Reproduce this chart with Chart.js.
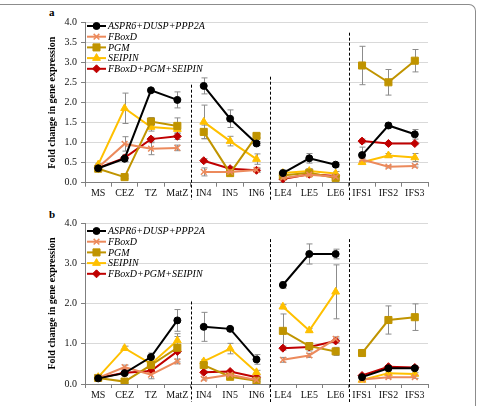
<!DOCTYPE html>
<html>
<head>
<meta charset="utf-8">
<script src="https://cdn.jsdelivr.net/npm/chart.js@4.4.1/dist/chart.umd.min.js"></script>
<style>
  body { margin: 0; background: #fff; }
  #wrap { position: relative; width: 477px; height: 406px; overflow: hidden; }
  #frame { position: absolute; left: -2px; top: 4px; width: 477px; height: 600px;
           border-top: 1px solid #8c8c8c; border-right: 1px solid #8c8c8c; border-radius: 0 7px 0 0; }
  canvas { position: absolute; left: 0; }
  .tag { position: absolute; font: bold 11px "Liberation Serif", serif; color: #000; }
</style>
</head>
<body>
<div id="wrap">
  <div id="frame"></div>
  <div class="tag" style="left:49px; top:6px;">a</div>
  <div class="tag" style="left:49px; top:208px;">b</div>
  <canvas id="chartA" width="477" height="200" style="top:0px"></canvas>
  <canvas id="chartB" width="477" height="206" style="top:200px"></canvas>
</div>
<script>
const categories = ['MS', 'CEZ', 'TZ', 'MatZ', 'IN4', 'IN5', 'IN6', 'LE4', 'LE5', 'LE6', 'IFS1', 'IFS2', 'IFS3'];
const seriesNames = ['ASPR6+DUSP+PPP2A', 'FBoxD', 'PGM', 'SEIPIN', 'FBoxD+PGM+SEIPIN'];

// panel a
const aspr6A  = [0.36, 0.60, 2.31, 2.07, 2.42, 1.60, 0.98, 0.24, 0.61, 0.45, 0.69, 1.43, 1.21];
const fboxdA  = [0.38, 0.97, 0.85, 0.87, 0.27, 0.27, 0.32, 0.12, 0.20, 0.15, 0.58, 0.40, 0.42];
const pgmA    = [0.35, 0.14, 1.53, 1.42, 1.27, 0.24, 1.17, 0.18, 0.25, 0.12, 2.93, 2.51, 3.05];
const seipinA = [0.45, 1.86, 1.39, 1.34, 1.52, 1.04, 0.59, 0.24, 0.29, 0.23, 0.51, 0.68, 0.63];
const comboA  = [0.37, 0.62, 1.09, 1.16, 0.55, 0.35, 0.31, 0.09, 0.21, 0.17, 1.04, 0.98, 0.98];

const aspr6ErrA  = [0.03, 0.08, 0.03, 0.20, 0.20, 0.22, 0.05, 0.06, 0.12, 0.05, 0.20, 0.07, 0.12];
const fboxdErrA  = [0.03, 0.18, 0.15, 0.07, 0.10, 0.05, 0.05, 0.03, 0.03, 0.03, 0.03, 0.03, 0.03];
const pgmErrA    = [0.03, 0.03, 0.10, 0.20, 0.17, 0.05, 0.05, 0.05, 0.05, 0.05, 0.48, 0.32, 0.28];
const seipinErrA = [0.03, 0.38, 0.10, 0.10, 0.42, 0.12, 0.13, 0.08, 0.06, 0.05, 0.05, 0.05, 0.10];
const comboErrA  = [0.03, 0.08, 0.05, 0.08, 0.05, 0.05, 0.05, 0.03, 0.03, 0.03, 0.05, 0.03, 0.03];

// panel b
const aspr6B  = [0.14, 0.27, 0.67, 1.58, 1.42, 1.37, 0.61, 2.46, 3.23, 3.23, 0.17, 0.39, 0.39];
const fboxdB  = [0.15, 0.42, 0.23, 0.56, 0.13, 0.23, 0.10, 0.60, 0.71, 1.12, 0.11, 0.17, 0.17];
const pgmB    = [0.15, 0.06, 0.47, 0.90, 0.47, 0.18, 0.08, 1.32, 0.94, 0.81, 0.77, 1.59, 1.66];
const seipinB = [0.17, 0.89, 0.50, 1.08, 0.56, 0.88, 0.29, 1.92, 1.33, 2.29, 0.10, 0.27, 0.25];
const comboB  = [0.15, 0.28, 0.32, 0.81, 0.29, 0.31, 0.17, 0.89, 0.92, 1.07, 0.21, 0.43, 0.41];

const aspr6ErrB  = [0.03, 0.03, 0.10, 0.27, 0.36, 0.03, 0.12, 0.08, 0.25, 0.12, 0.03, 0.03, 0.03];
const fboxdErrB  = [0.03, 0.05, 0.10, 0.06, 0.03, 0.05, 0.03, 0.06, 0.05, 0.05, 0.03, 0.03, 0.03];
const pgmErrB    = [0.03, 0.03, 0.08, 0.35, 0.05, 0.05, 0.03, 0.42, 0.08, 0.10, 0.08, 0.35, 0.33];
const seipinErrB = [0.03, 0.05, 0.05, 0.10, 0.05, 0.13, 0.05, 0.05, 0.05, 0.67, 0.03, 0.03, 0.03];
const comboErrB  = [0.03, 0.03, 0.05, 0.05, 0.03, 0.03, 0.03, 0.05, 0.10, 0.05, 0.03, 0.03, 0.03];

// first category of each tissue group (lines break there)
const groupStarts = [4, 7, 10];

const FONT = '"Liberation Serif", "Times New Roman", serif';
const colors = ['#000000', '#ec8a5c', '#c09400', '#ffc000', '#c00000'];
const markers = ['circle', 'crossRot', 'rect', 'triangle', 'rectRot'];
const markerSize = [3.5, 4, 5, 4.5, 4];

// gray error bars, drawn under the lines
const errorBars = {
    id: 'errorBars',
    beforeDatasetsDraw(chart) {
        const ctx = chart.ctx;
        const y = chart.scales.y;
        ctx.save();
        ctx.strokeStyle = '#8c8c8c';
        ctx.lineWidth = 1;
        chart.data.datasets.forEach((ds, i) => {
            const meta = chart.getDatasetMeta(i);
            meta.data.forEach((pt, j) => {
                const v = ds.data[j], e = ds.errors[j];
                const x = Math.round(pt.x) + 0.5;
                const top = y.getPixelForValue(v + e), bot = y.getPixelForValue(v - e);
                ctx.beginPath();
                ctx.moveTo(x, top); ctx.lineTo(x, bot);
                ctx.moveTo(x - 3, top); ctx.lineTo(x + 3, top);
                ctx.moveTo(x - 3, bot); ctx.lineTo(x + 3, bot);
                ctx.stroke();
            });
        });
        ctx.restore();
    }
};

// dashed separators between tissue groups
const separators = {
    id: 'separators',
    afterDraw(chart, args, opts) {
        const ctx = chart.ctx;
        const x = chart.scales.x, y = chart.scales.y;
        ctx.save();
        ctx.strokeStyle = '#000';
        ctx.lineWidth = 1;
        ctx.setLineDash([3, 2]);
        groupStarts.forEach((g, k) => {
            const px = Math.round((x.getPixelForValue(g - 1) + x.getPixelForValue(g)) / 2) + 0.5;
            ctx.beginPath();
            ctx.moveTo(px, y.getPixelForValue(opts.tops[k]));
            ctx.lineTo(px, chart.chartArea.bottom + opts.below);
            ctx.stroke();
        });
        ctx.restore();
    }
};

// legend inside the plot, line + marker + italic label
const insideLegend = {
    id: 'insideLegend',
    afterDraw(chart, args, opts) {
        const ctx = chart.ctx;
        ctx.save();
        chart.data.datasets.forEach((ds, i) => {
            const y = opts.top + i * opts.gap;
            const x0 = opts.left;
            ctx.strokeStyle = ds.borderColor;
            ctx.fillStyle = ds.pointBackgroundColor;
            ctx.lineWidth = 2;
            ctx.beginPath();
            ctx.moveTo(x0, y); ctx.lineTo(x0 + 19, y);
            ctx.stroke();
            ctx.lineWidth = ds.pointBorderWidth;
            Chart.helpers.drawPoint(ctx, { pointStyle: ds.pointStyle, radius: ds.pointRadius, borderWidth: ds.pointBorderWidth, rotation: 0 }, x0 + 9.5, y);
            ctx.fillStyle = '#000';
            ctx.font = 'italic 10px ' + FONT;
            ctx.textBaseline = 'middle';
            ctx.fillText(ds.label, x0 + 21, y + 0.5);
        });
        ctx.restore();
    }
};

function makeChart(id, series, errors, step, sepTops, legendTop, padTop, padBottom, xHeight) {
    const datasets = series.map((s, i) => ({
        label: seriesNames[i],
        data: s,
        errors: errors[i],
        borderColor: colors[i],
        backgroundColor: colors[i],
        pointBackgroundColor: colors[i],
        pointBorderColor: colors[i],
        pointBorderWidth: i === 1 ? 1.5 : 1,
        pointStyle: markers[i],
        pointRadius: markerSize[i],
        borderWidth: 2,
        tension: 0,
        segment: {
            borderColor: c => groupStarts.includes(c.p1DataIndex) ? 'rgba(0,0,0,0)' : undefined
        }
    }));

    return new Chart(document.getElementById(id), {
        type: 'line',
        data: { labels: categories, datasets: datasets },
        options: {
            responsive: false,
            animation: false,
            layout: { padding: { left: 46, right: 49, top: padTop, bottom: padBottom } },
            plugins: {
                legend: { display: false },
                tooltip: { enabled: false },
                separators: { tops: sepTops, below: 18 },
                insideLegend: { left: 87, top: legendTop, gap: 10.7 }
            },
            scales: {
                x: {
                    offset: true,
                    grid: { drawOnChartArea: false, offset: true, tickLength: 4, tickColor: '#7f7f7f' },
                    border: { color: '#7f7f7f' },
                    ticks: { color: '#111', font: { family: FONT, size: 10 }, padding: 1, maxRotation: 0, autoSkip: false },
                    afterFit: s => { s.height = xHeight; }
                },
                y: {
                    min: 0,
                    max: 4,
                    grid: { color: '#d9d9d9', tickLength: 4, tickColor: '#7f7f7f' },
                    border: { color: '#7f7f7f' },
                    ticks: { stepSize: step, color: '#111', font: { family: FONT, size: 10 }, padding: 4,
                             callback: v => Number(v).toFixed(1) },
                    title: { display: true, text: 'Fold change in gene expression', color: '#000',
                             font: { family: FONT, size: 10, weight: 'bold' }, padding: { top: 0, bottom: 0 } },
                    afterFit: s => { s.width = 39; }
                }
            }
        },
        plugins: [errorBars, separators, insideLegend]
    });
}

makeChart('chartA',
    [aspr6A, fboxdA, pgmA, seipinA, comboA],
    [aspr6ErrA, fboxdErrA, pgmErrA, seipinErrA, comboErrA],
    0.5, [2.45, 2.65, 3.75], 26, 22.7, 0, 17.3);

makeChart('chartB',
    [aspr6B, fboxdB, pgmB, seipinB, comboB],
    [aspr6ErrB, fboxdErrB, pgmErrB, seipinErrB, comboErrB],
    1, [2.05, 3.6, 3.6], 31, 23, 0, 22);
</script>
</body>
</html>
